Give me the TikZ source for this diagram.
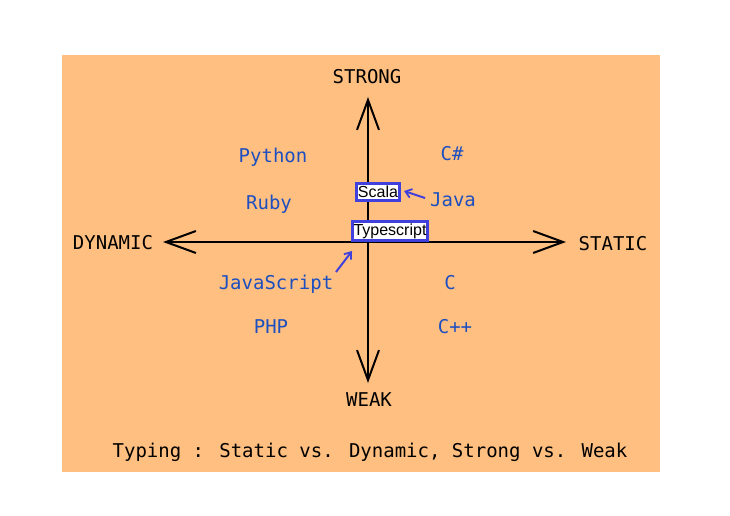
\documentclass[tikz,border=0pt]{standalone}
\usepackage{fontspec}
\setmainfont{Liberation Sans}
\newfontfamily\monof{DejaVu Sans Mono}
\usetikzlibrary{arrows.meta}
\definecolor{bgorange}{HTML}{FFBF80}
\definecolor{langblue}{HTML}{1D4FC0}
\definecolor{boxblue}{HTML}{4040DD}
\begin{document}
\begin{tikzpicture}[x=1pt,y=-1pt,
  axis/.style={line width=2pt,-{Straight Barb[length=30pt,width=22pt,line width=2pt]}},
  axlabel/.style={font=\monof\fontsize{19}{19}\selectfont,text=black,inner sep=0pt},
  lang/.style={font=\monof\fontsize{19}{19}\selectfont,text=langblue,inner sep=0pt},
  tsbox/.style={draw=boxblue,line width=3pt,fill=white,font=\fontsize{16}{16}\selectfont,inner xsep=1.5pt,inner ysep=2.5pt,text=black},
  ptr/.style={draw=boxblue,line width=2pt,-{Straight Barb[length=6pt,width=9pt,line width=1.8pt]}}]
\useasboundingbox (0,0) rectangle (730,516);
\fill[bgorange] (62,55) rectangle (660,472);
\coordinate (o) at (368,242);
\coordinate (l) at (163,242);
\coordinate (r) at (566,242);
\coordinate (t) at (368,97);
\coordinate (b) at (368,383);
\draw[axis] (o) -- (l);
\draw[axis] (o) -- (r);
\draw[axis] (o) -- (t);
\draw[axis] (o) -- (b);
\node[axlabel] (strong) at (367,77) {STRONG};
\node[axlabel] (weak) at (369,400) {WEAK};
\node[axlabel] (dyn) at (113,243) {DYNAMIC};
\node[axlabel] (stat) at (613,244) {STATIC};
\node[lang] (py) at (273,157) {Python};
\node[lang] (rb) at (269,204) {Ruby};
\node[lang] (cs) at (452,154) {C\#};
\node[lang] (java) at (453,200) {Java};
\node[lang] (js) at (276,284) {JavaScript};
\node[lang] (php) at (271,327) {PHP};
\node[lang] (c) at (450,283) {C};
\node[lang] (cpp) at (455,327) {C++};
\node[tsbox] (scala) at (378,192) {Scala};
\node[tsbox] (ts) at (390,231) {Typescript};
\coordinate (j1) at (425,198);
\coordinate (j2) at (404,191);
\draw[ptr] (j1) -- (j2);
\coordinate (s1) at (336,272);
\coordinate (s2) at (352,251);
\draw[ptr] (s1) -- (s2);
\node[axlabel] (title) at (370,452) {Typing : Static vs. Dynamic, Strong vs. Weak};
\end{tikzpicture}
\end{document}
